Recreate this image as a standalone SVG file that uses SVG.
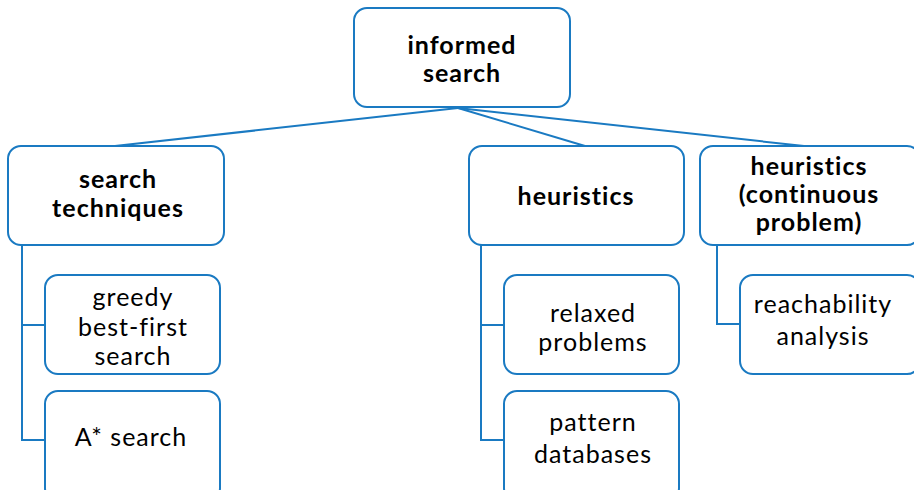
<svg xmlns="http://www.w3.org/2000/svg" width="914" height="490" viewBox="0 0 914 490">
<style>
.box{fill:#fff;stroke:#1a7ac2;stroke-width:2}
.con{fill:none;stroke:#1a7ac2;stroke-width:2}
text{font-family:Lato,"Open Sans",sans-serif;font-size:25px;letter-spacing:1px;fill:#000;text-anchor:middle}
.b{font-weight:bold}
</style>
<rect width="914" height="490" fill="#fff"/>
<g id="connectors">
<line class="con" x1="458" y1="108" x2="115" y2="146"/>
<line class="con" x1="458" y1="108" x2="585" y2="146"/>
<line class="con" x1="458" y1="108" x2="804" y2="146"/>
<polyline class="con" points="22,245 22,440 45,440"/>
<line class="con" x1="22" y1="325" x2="45" y2="325"/>
<polyline class="con" points="481,245 481,440 504,440"/>
<line class="con" x1="481" y1="325" x2="504" y2="325"/>
<polyline class="con" points="717,245 717,324 740,324"/>
</g>
<g id="informed">
<rect class="box" x="354" y="8" width="216" height="99" rx="13"/>
<text class="b" x="462" y="54">informed</text>
<text class="b" x="462" y="82">search</text>
</g>
<g id="search-techniques">
<rect class="box" x="8" y="146" width="216" height="99" rx="13"/>
<text class="b" x="118" y="188">search</text>
<text class="b" x="118" y="217">techniques</text>
</g>
<g id="heuristics">
<rect class="box" x="469" y="146" width="215" height="99" rx="13"/>
<text class="b" x="576" y="205">heuristics</text>
</g>
<g id="heuristics-continuous">
<rect class="box" x="700" y="146" width="220" height="99" rx="13"/>
<text class="b" x="809" y="175">heuristics</text>
<text class="b" x="809" y="203">(continuous</text>
<text class="b" x="809" y="231">problem)</text>
</g>
<g id="greedy">
<rect class="box" x="45" y="275" width="175" height="99" rx="13"/>
<text x="133" y="306">greedy</text>
<text x="133" y="336">best-first</text>
<text x="133" y="365">search</text>
</g>
<g id="astar">
<rect class="box" x="45" y="391" width="175" height="110" rx="13"/>
<text x="131" y="446">A* search</text>
</g>
<g id="relaxed">
<rect class="box" x="504" y="275" width="175" height="99" rx="13"/>
<text x="593" y="322">relaxed</text>
<text x="593" y="351">problems</text>
</g>
<g id="pattern">
<rect class="box" x="504" y="391" width="175" height="110" rx="13"/>
<text x="593" y="431">pattern</text>
<text x="593" y="463">databases</text>
</g>
<g id="reachability">
<rect class="box" x="740" y="275" width="180" height="99" rx="13"/>
<text x="823" y="313">reachability</text>
<text x="823" y="345">analysis</text>
</g>
</svg>
